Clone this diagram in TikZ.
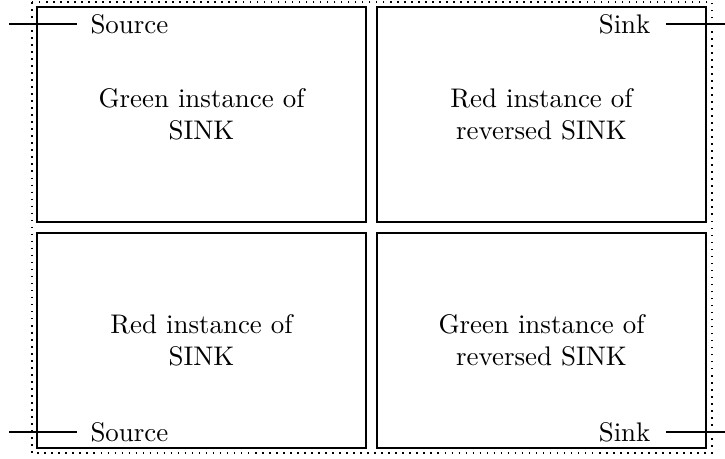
\documentclass[tikz,border=0pt]{standalone}
\begin{document}
\begin{tikzpicture}[x=0.3846pt,y=-0.3846pt,
  box/.style={draw,line width=0.8pt},
  txt/.style={font=\fontsize{10.35}{12.2}\selectfont},
  lbl/.style={txt,inner ysep=0pt,inner xsep=5pt},
  feed/.style={line width=0.8pt},
  centre/.style={txt,align=center}]
\useasboundingbox (0,0) rectangle (725,458);
\draw[line width=0.6pt,dash pattern=on 0.6pt off 2.1pt] (32,2) rectangle (712,453);
\draw[box] (37,7) rectangle (366,222);
\draw[box] (377,7) rectangle (706,222);
\draw[box] (37,233) rectangle (366,448);
\draw[box] (377,233) rectangle (706,448);
\node[centre] (tl) at (201.5,114.5) {Green instance of\\SINK};
\node[centre] (tr) at (541.5,114.5) {Red instance of\\reversed SINK};
\node[centre] (bl) at (201.5,340.5) {Red instance of\\SINK};
\node[centre] (br) at (541.5,340.5) {Green instance of\\reversed SINK};
\node[lbl,anchor=west] (s1) at (77,24) {Source};
\node[lbl,anchor=west] (s2) at (77,432) {Source};
\node[lbl,anchor=east,inner xsep=5.8pt] (k1) at (666,24) {Sink};
\node[lbl,anchor=east,inner xsep=5.8pt] (k2) at (666,432) {Sink};
\coordinate (a1) at (9,24);
\coordinate (a2) at (9,432);
\coordinate (b1) at (730,24);
\coordinate (b2) at (730,432);
\draw[feed] (a1) -- (s1.west);
\draw[feed] (a2) -- (s2.west);
\draw[feed] (k1.east) -- (b1);
\draw[feed] (k2.east) -- (b2);
\end{tikzpicture}
\end{document}
